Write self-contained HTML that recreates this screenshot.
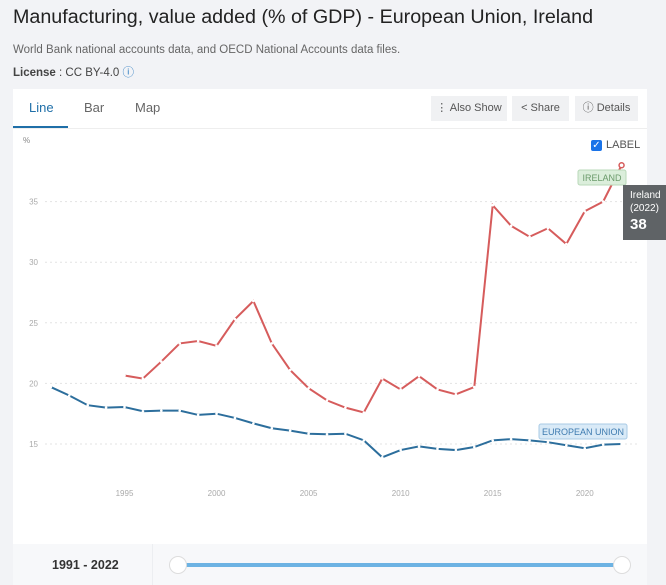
<!DOCTYPE html>
<html><head><meta charset="utf-8"><style>
body{margin:0;width:666px;height:585px;background:#f2f3f6;font-family:"Liberation Sans",sans-serif;overflow:hidden;position:relative}
.abs{position:absolute}
</style></head><body>
<div class="abs" style="left:13px;top:6px;font-size:19.7px;color:#222;white-space:nowrap">Manufacturing, value added (% of GDP) - European Union, Ireland</div>
<div class="abs" style="left:13px;top:44px;font-size:11.5px;color:#666">World Bank national accounts data, and OECD National Accounts data files.</div>
<div class="abs" style="left:13px;top:64px;font-size:11.5px;color:#444"><b>License</b> : CC BY-4.0 <span style="color:#2a7ac0">ⓘ</span></div>
<div class="abs" style="left:13px;top:89px;width:634px;height:496px;background:#fff"></div>
<div class="abs" style="left:29px;top:100px;font-size:13px;color:#1f6fa8">Line</div>
<div class="abs" style="left:13px;top:126px;width:55px;height:2px;background:#1f6fa8"></div>
<div class="abs" style="left:84px;top:100px;font-size:13px;color:#666">Bar</div>
<div class="abs" style="left:135px;top:100px;font-size:13px;color:#666">Map</div>
<div class="abs" style="left:13px;top:128px;width:634px;height:1px;background:#eee"></div>
<div class="abs" style="left:431px;top:96px;width:76px;height:25px;background:#f0f1f3;font-size:11px;color:#555;line-height:25px;text-align:center">⋮ Also Show</div>
<div class="abs" style="left:512px;top:96px;width:57px;height:25px;background:#f0f1f3;font-size:11px;color:#555;line-height:25px;text-align:center">&lt; Share</div>
<div class="abs" style="left:575px;top:96px;width:63px;height:25px;background:#f0f1f3;font-size:11px;color:#555;line-height:25px;text-align:center">ⓘ Details</div>
<div class="abs" style="left:591px;top:140px;width:11px;height:11px;background:#1a73e8;border-radius:2px;color:#fff;font-size:10px;line-height:11px;text-align:center">✓</div>
<div class="abs" style="left:606px;top:139px;font-size:11px;color:#555">LABEL</div>
<div class="abs" style="left:13px;top:544px;width:634px;height:41px;background:#f7f8fa"></div>
<div class="abs" style="left:152px;top:544px;width:1px;height:41px;background:#eceef1"></div>
<div class="abs" style="left:52px;top:558px;font-size:12.5px;font-weight:bold;color:#333">1991 - 2022</div>
<div class="abs" style="left:180px;top:563px;width:442px;height:4px;background:#6db3e3"></div>
<div class="abs" style="left:169px;top:556px;width:16px;height:16px;border-radius:50%;background:#fff;border:1px solid #ddd"></div>
<div class="abs" style="left:613px;top:556px;width:16px;height:16px;border-radius:50%;background:#fff;border:1px solid #ddd"></div>
<svg class="abs" style="left:0;top:0" width="666" height="585" id="chart">
<text x="23" y="143" font-size="8" fill="#888">%</text>
</svg>
<div class="abs" style="left:623px;top:185px;width:43px;height:55px;background:#5f6366;color:#fff;font-size:10px;padding:4px 0 0 7px;box-sizing:border-box;line-height:13px">Ireland<br>(2022)<br><b style="font-size:15px;line-height:20px">38</b></div>
<script>
const years=[];for(let y=1991;y<=2022;y++)years.push(y);
const euValues=[19.7,19.0,18.2,18.0,18.05,17.7,17.75,17.75,17.4,17.5,17.15,16.7,16.3,16.1,15.85,15.8,15.85,15.3,13.9,14.5,14.8,14.6,14.5,14.75,15.3,15.4,15.3,15.15,14.9,14.65,14.95,15.0];
const ieYears=[1995,1996,1997,1998,1999,2000,2001,2002,2003,2004,2005,2006,2007,2008,2009,2010,2011,2012,2013,2014,2015,2016,2017,2018,2019,2020,2021,2022];
const ieValues=[20.65,20.4,21.8,23.3,23.5,23.1,25.3,26.8,23.3,21.1,19.6,18.6,18.0,17.6,20.4,19.5,20.6,19.5,19.1,19.7,34.7,33.0,32.1,32.8,31.5,34.2,35.0,38.0];
const yTicks=[15,20,25,30,35];
const xTicks=[1995,2000,2005,2010,2015,2020];
const NS="http://www.w3.org/2000/svg";
const svg=document.getElementById('chart');
const xs=y=>124.5+(y-1995)*18.41;
const ys=v=>444-(v-15)*12.12;
function mk(t,a){const e=document.createElementNS(NS,t);for(const k in a)e.setAttribute(k,a[k]);svg.appendChild(e);return e;}
yTicks.forEach(v=>{
const g=mk('line',{x1:45,x2:640,y1:ys(v),y2:ys(v),stroke:'#e3e3e3','stroke-dasharray':'2,3'});


const t=mk('text',{x:38,y:ys(v)+3,'font-size':8,fill:'#aaa','text-anchor':'end'});t.textContent=v;


});
xTicks.forEach(v=>{
const t=mk('text',{x:xs(v),y:496,'font-size':8,fill:'#aaa','text-anchor':'middle'});t.textContent=v;


});
function series(xv,vals,color,name){
const p=mk('polyline',{points:xv.map((y,i)=>xs(y)+','+ys(vals[i])).join(' '),fill:'none',stroke:color,'stroke-width':2});


xv.forEach((y,i)=>{const c=mk('circle',{cx:xs(y),cy:ys(vals[i]),r:1.3,fill:'#fff'});

});
}
series(years,euValues,'#2c6e9c','eu');
series(ieYears,ieValues,'#d65c5c','ireland');
const last=ieYears.length-1;
const hc=mk('circle',{cx:xs(ieYears[last]),cy:ys(ieValues[last]),r:2.5,fill:'#fff',stroke:'#d65c5c','stroke-width':1.5});


function label(x,y,w,txt,bg,bd,fg,name){
const r=mk('rect',{x:x,y:y,width:w,height:15,fill:bg,stroke:bd,rx:2});


const t=mk('text',{x:x+w/2,y:y+11,'font-size':9,fill:fg,'text-anchor':'middle'});t.textContent=txt;


}
label(578,170,48,'IRELAND','#dbeedb','#b8d8b8','#6a9a6a','ireland-series-label');
label(539,424,88,'EUROPEAN UNION','#d9eaf7','#a9cbe6','#3e7bb0','eu-series-label');
</script>
</body></html>
